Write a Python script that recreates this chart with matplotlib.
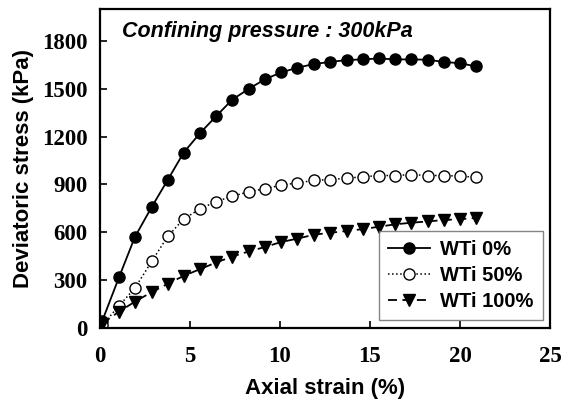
import matplotlib
matplotlib.use("Agg")
import matplotlib.pyplot as plt

strain = [0.13, 1.06, 1.94, 2.87, 3.76, 4.65, 5.56, 6.46, 7.35, 8.26, 9.17, 10.06,
          10.96, 11.89, 12.78, 13.7, 14.6, 15.5, 16.4, 17.3, 18.2, 19.1, 20.0, 20.9]
wti0 = [46, 319, 571, 758, 928, 1100, 1222, 1329, 1432, 1499, 1560, 1602,
        1632, 1655, 1668, 1680, 1684, 1690, 1684, 1684, 1682, 1668, 1660, 1640]
wti50 = [18, 140, 250, 417, 574, 684, 747, 793, 826, 854, 874, 895,
         910, 925, 931, 939, 948, 956, 956, 962, 956, 956, 952, 945]
wti100 = [28, 103, 165, 225, 277, 327, 369, 411, 448, 480, 508, 539,
          560, 585, 597, 608, 620, 635, 650, 660, 668, 677, 682, 690]

labels = ["WTi 0%", "WTi 50%", "WTi 100%"]
xticks = [0, 5, 10, 15, 20, 25]
yticks = [0, 300, 600, 900, 1200, 1500, 1800]

fig = plt.figure(figsize=(5.62, 4.03), dpi=100)
ax = fig.add_axes([100/562, 1-328/403, 450/562, 319/403])

ax.plot(strain, wti0, '-', color='black', lw=1.3, marker='o', ms=8,
        mfc='black', mec='black', label=labels[0])
ax.plot(strain, wti50, ':', color='black', lw=1.1, marker='o', ms=8,
        mfc='white', mec='black', mew=1.0, label=labels[1])
ax.plot(strain, wti100, '--', color='black', lw=1.3, marker='v', ms=8,
        mfc='black', mec='black', label=labels[2], dashes=(5, 3))

ax.set_xlim(0, 25)
ax.set_ylim(0, 2000)
ax.set_xticks(xticks)
ax.set_yticks(yticks)
ax.tick_params(direction='in', length=5, width=1.2, top=False, right=False)
ax.tick_params(axis='x', pad=13)
ax.tick_params(axis='y', pad=9)
for lab in ax.get_xticklabels() + ax.get_yticklabels():
    lab.set_fontfamily('Liberation Serif')
    lab.set_fontweight('bold')
    lab.set_fontsize(16.5)
for s in ax.spines.values():
    s.set_linewidth(1.6)

ax.set_xlabel("Axial strain (%)", fontfamily='Liberation Sans', fontweight='bold',
              fontsize=16, labelpad=8)
ax.set_ylabel("Deviatoric stress (kPa)", fontfamily='Liberation Sans', fontweight='bold',
              fontsize=16, labelpad=6)

ax.text(0.049, 0.93, "Confining pressure : 300kPa", transform=ax.transAxes,
        fontfamily='Liberation Sans', fontweight='bold', fontstyle='italic',
        fontsize=15.5, va='center', ha='left')

leg = ax.legend(loc='lower right', bbox_to_anchor=(0.984, 0.025), borderaxespad=0,
                prop={'family': 'Liberation Sans', 'weight': 'bold', 'size': 14.5},
                fancybox=False, frameon=True, handlelength=2.1, borderpad=0.45,
                labelspacing=0.35, handletextpad=0.5)
leg.get_frame().set_edgecolor('#666666')
leg.get_frame().set_linewidth(1.0)

fig.savefig("out.png", dpi=100)
